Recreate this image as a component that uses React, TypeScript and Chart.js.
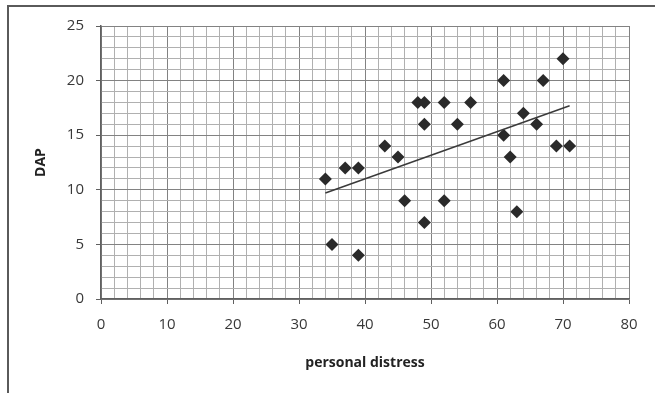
import React, { useEffect, useRef } from "react";
import { Chart, registerables } from "chart.js";

Chart.register(...registerables);

// personal distress (x) and DAP (y) values
const distress = [34, 35, 37, 39, 39, 43, 45, 46, 48, 49, 49, 49, 52, 52, 54, 56, 61, 61, 62, 63, 64, 66, 67, 69, 70, 71];
const dap = [11, 5, 12, 12, 4, 14, 13, 9, 18, 18, 16, 7, 18, 9, 16, 18, 20, 15, 13, 8, 17, 16, 20, 14, 22, 14];

// linear trend line end points
const trendX = [34, 71];
const trendY = [9.7, 17.7];

const xTitle = "personal distress";
const yTitle = "DAP";

const MAJOR = "#828282";
const MINOR = "#b0b0b0";
const AXIS = "#606060";
const TEXT = "#383838";

export default function App() {
  const ref = useRef<HTMLCanvasElement | null>(null);

  useEffect(() => {
    if (!ref.current) return;
    const chart = new Chart(ref.current, {
      type: "scatter",
      data: {
        datasets: [
          {
            type: "scatter",
            data: distress.map((x, i) => ({ x, y: dap[i] })),
            pointStyle: "rectRot",
            pointRadius: 6.5,
            backgroundColor: "#2a2a2a",
            borderColor: "#2a2a2a",
            borderWidth: 0,
            order: 1,
          },
          {
            type: "line",
            data: trendX.map((x, i) => ({ x, y: trendY[i] })),
            borderColor: "#3a3a3a",
            borderWidth: 1.5,
            pointRadius: 0,
            fill: false,
            order: 0,
          } as any,
        ],
      },
      options: {
        animation: false,
        responsive: false,
        layout: { padding: { left: 0, top: 26, right: 26, bottom: 0 } },
        plugins: { legend: { display: false }, tooltip: { enabled: false } },
        scales: {
          x: {
            type: "linear",
            min: 0,
            max: 80,
            afterFit: (s: any) => {
              s.height = 94;
            },
            ticks: {
              stepSize: 2,
              autoSkip: false,
              maxRotation: 0,
              padding: 12,
              color: TEXT,
              font: { family: "'Open Sans'", size: 15 },
              callback: (v: any) => (Number(v) % 10 === 0 ? String(v) : ""),
            },
            grid: {
              color: (c: any) => (c.tick && c.tick.value % 10 === 0 ? MAJOR : MINOR),
              tickColor: (c: any) => (c.tick && c.tick.value % 10 === 0 ? AXIS : "rgba(0,0,0,0)"),
              tickLength: 5,
              lineWidth: 1,
            },
            border: { color: AXIS, width: 1.5 },
            title: {
              display: true,
              text: xTitle,
              color: "#222",
              font: { family: "'Open Sans'", size: 14, weight: "bold" },
              padding: { top: 0, bottom: 22 },
            },
          },
          y: {
            type: "linear",
            min: 0,
            max: 25,
            afterFit: (s: any) => {
              s.width = 101;
            },
            ticks: {
              stepSize: 1,
              autoSkip: false,
              padding: 12,
              color: TEXT,
              font: { family: "'Open Sans'", size: 15 },
              callback: (v: any) => (Number(v) % 5 === 0 ? String(v) : ""),
            },
            grid: {
              color: (c: any) => (c.tick && c.tick.value % 5 === 0 ? MAJOR : MINOR),
              tickColor: (c: any) => (c.tick && c.tick.value % 5 === 0 ? AXIS : "rgba(0,0,0,0)"),
              tickLength: 5,
              lineWidth: 1,
            },
            border: { color: AXIS, width: 1.5 },
            title: {
              display: true,
              text: yTitle,
              color: "#222",
              font: { family: "'Open Sans'", size: 14, weight: "bold" },
              padding: { top: 33, bottom: 0 },
            },
          },
        },
      },
    });
    return () => chart.destroy();
  }, []);

  return (
    <div style={{ position: "fixed", left: 0, top: 0, width: 655, height: 393, background: "#fff", overflow: "hidden" }}>
      <canvas ref={ref} width={655} height={393} style={{ position: "absolute", left: 0, top: 0, width: 655, height: 393 }} />
      <div
        style={{
          position: "absolute",
          left: 7,
          top: 5,
          width: 660,
          height: 400,
          borderTop: "2px solid #5a5a5a",
          borderLeft: "2px solid #5a5a5a",
          pointerEvents: "none",
        }}
      />
    </div>
  );
}
